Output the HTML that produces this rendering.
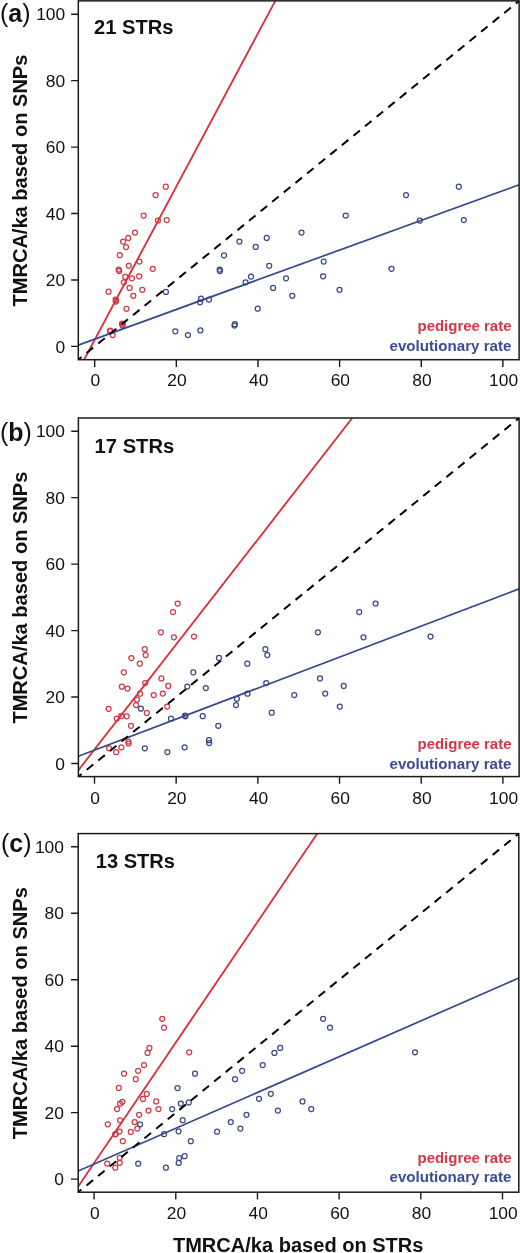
<!DOCTYPE html><html><head><meta charset="utf-8"><style>html,body{margin:0;padding:0;background:#fff;}svg{display:block;will-change:transform;}text{font-family:"Liberation Sans",sans-serif;}</style></head><body>
<svg width="520" height="1253" viewBox="0 0 520 1253">
<clipPath id="c0"><rect x="78.3" y="0.85" width="440.8" height="358.85"/></clipPath>
<path d="M94.7 359.7V366.9M176.34 359.7V366.9M257.98 359.7V366.9M339.62 359.7V366.9M421.26 359.7V366.9M502.9 359.7V366.9M78.3 346.4H71.1M78.3 279.96H71.1M78.3 213.52H71.1M78.3 147.08H71.1M78.3 80.64H71.1M78.3 14.2H71.1" stroke="#1a1a1a" stroke-width="1.4" fill="none"/>
<text x="65.2" y="352.6" font-size="17.4" text-anchor="end" fill="#111">0</text>
<text x="65.2" y="286.16" font-size="17.4" text-anchor="end" fill="#111">20</text>
<text x="65.2" y="219.72" font-size="17.4" text-anchor="end" fill="#111">40</text>
<text x="65.2" y="153.28" font-size="17.4" text-anchor="end" fill="#111">60</text>
<text x="65.2" y="86.84" font-size="17.4" text-anchor="end" fill="#111">80</text>
<text x="65.2" y="20.4" font-size="17.4" text-anchor="end" fill="#111">100</text>
<g clip-path="url(#c0)">
<g fill="none" stroke="#cf3a48" stroke-width="1.25">
<circle cx="165.8" cy="186.7" r="2.5"/>
<circle cx="155.6" cy="195" r="2.5"/>
<circle cx="143.7" cy="215.6" r="2.5"/>
<circle cx="157.9" cy="220.6" r="2.5"/>
<circle cx="166.7" cy="220" r="2.5"/>
<circle cx="135" cy="232.5" r="2.5"/>
<circle cx="128.3" cy="237.9" r="2.5"/>
<circle cx="123.1" cy="241.5" r="2.5"/>
<circle cx="126" cy="247.1" r="2.5"/>
<circle cx="119.8" cy="255.2" r="2.5"/>
<circle cx="139.4" cy="261.5" r="2.5"/>
<circle cx="128.8" cy="265.8" r="2.5"/>
<circle cx="152.7" cy="268.8" r="2.5"/>
<circle cx="118.6" cy="269.6" r="2.5"/>
<circle cx="119.2" cy="271" r="2.5"/>
<circle cx="125.2" cy="276.9" r="2.5"/>
<circle cx="131.9" cy="278.3" r="2.5"/>
<circle cx="139.2" cy="276.3" r="2.5"/>
<circle cx="123.8" cy="282.3" r="2.5"/>
<circle cx="129.6" cy="287.9" r="2.5"/>
<circle cx="142.3" cy="289.8" r="2.5"/>
<circle cx="108.5" cy="291.7" r="2.5"/>
<circle cx="133.3" cy="295.8" r="2.5"/>
<circle cx="115.6" cy="299.5" r="2.5"/>
<circle cx="115.8" cy="301.5" r="2.5"/>
<circle cx="116.2" cy="300.3" r="2.5"/>
<circle cx="126.5" cy="308.8" r="2.5"/>
<circle cx="122" cy="323.5" r="2.5"/>
<circle cx="122.5" cy="325.5" r="2.5"/>
<circle cx="110" cy="331.2" r="2.5"/>
<circle cx="112.7" cy="335" r="2.5"/>
<circle cx="110.3" cy="330.6" r="2.5"/>
<circle cx="122.8" cy="324.6" r="2.5"/>
</g><g fill="none" stroke="#3a4a88" stroke-width="1.25">
<circle cx="458.8" cy="186.7" r="2.5"/>
<circle cx="406" cy="195" r="2.5"/>
<circle cx="345.7" cy="215.6" r="2.5"/>
<circle cx="419.8" cy="220.6" r="2.5"/>
<circle cx="463.8" cy="220" r="2.5"/>
<circle cx="301.5" cy="232.5" r="2.5"/>
<circle cx="266.7" cy="237.9" r="2.5"/>
<circle cx="239.4" cy="241.5" r="2.5"/>
<circle cx="255.7" cy="246.9" r="2.5"/>
<circle cx="224" cy="255.3" r="2.5"/>
<circle cx="323.7" cy="261.5" r="2.5"/>
<circle cx="269.2" cy="265.8" r="2.5"/>
<circle cx="391.5" cy="268.8" r="2.5"/>
<circle cx="219.7" cy="269.6" r="2.5"/>
<circle cx="219.9" cy="271.1" r="2.5"/>
<circle cx="251" cy="276.5" r="2.5"/>
<circle cx="286" cy="278.3" r="2.5"/>
<circle cx="323.1" cy="276.3" r="2.5"/>
<circle cx="245.6" cy="282.3" r="2.5"/>
<circle cx="273.1" cy="287.9" r="2.5"/>
<circle cx="339.5" cy="289.8" r="2.5"/>
<circle cx="165.9" cy="291.9" r="2.5"/>
<circle cx="292.3" cy="295.8" r="2.5"/>
<circle cx="201" cy="298.7" r="2.5"/>
<circle cx="200" cy="302.3" r="2.5"/>
<circle cx="209" cy="299.6" r="2.5"/>
<circle cx="257.7" cy="308.7" r="2.5"/>
<circle cx="234.9" cy="324.2" r="2.5"/>
<circle cx="234.5" cy="325.6" r="2.5"/>
<circle cx="175.3" cy="331.3" r="2.5"/>
<circle cx="187.9" cy="335" r="2.5"/>
<circle cx="200.4" cy="330.4" r="2.5"/>
</g>
<line x1="84.1" y1="359.7" x2="275.3" y2="0.85" stroke="#d8303d" stroke-width="1.85"/>
<line x1="78.3" y1="345.1" x2="519.1" y2="184.8" stroke="#34488c" stroke-width="1.7"/>
<line x1="78.3" y1="359.7" x2="519.1" y2="0.85" stroke="#000" stroke-width="2" stroke-dasharray="8.4 6.56" stroke-dashoffset="4.26" stroke-linecap="butt"/>
</g>
<rect x="78.3" y="0.85" width="440.8" height="358.85" fill="none" stroke="#1a1a1a" stroke-width="1.5"/>
<text y="22" font-size="25" fill="#111"><tspan x="0">(</tspan><tspan font-weight="bold">a</tspan><tspan>)</tspan></text>
<text x="94" y="34.35" font-size="20" font-weight="bold" fill="#111" textLength="79.5" lengthAdjust="spacingAndGlyphs">21 STRs</text>
<text x="417.5" y="331.2" font-size="14" font-weight="bold" fill="#d6364a" textLength="94" lengthAdjust="spacingAndGlyphs">pedigree rate</text>
<text x="389.5" y="351.1" font-size="14" font-weight="bold" fill="#3a4c96" textLength="122" lengthAdjust="spacingAndGlyphs">evolutionary rate</text>
<text transform="translate(26.8 180.58) rotate(-90)" font-size="19.6" font-weight="bold" fill="#111" text-anchor="middle" textLength="252" lengthAdjust="spacingAndGlyphs">TMRCA/ka based on SNPs</text>
<text x="95.4" y="386.4" font-size="17.4" text-anchor="middle" fill="#111">0</text>
<text x="177.04" y="386.4" font-size="17.4" text-anchor="middle" fill="#111">20</text>
<text x="258.68" y="386.4" font-size="17.4" text-anchor="middle" fill="#111">40</text>
<text x="340.32" y="386.4" font-size="17.4" text-anchor="middle" fill="#111">60</text>
<text x="421.96" y="386.4" font-size="17.4" text-anchor="middle" fill="#111">80</text>
<text x="503.6" y="386.4" font-size="17.4" text-anchor="middle" fill="#111">100</text>
<clipPath id="c1"><rect x="78.4" y="418" width="440.7" height="358.6"/></clipPath>
<path d="M94.5 776.6V783.8M176.18 776.6V783.8M257.86 776.6V783.8M339.54 776.6V783.8M421.22 776.6V783.8M502.9 776.6V783.8M78.4 763.5H71.2M78.4 697.04H71.2M78.4 630.58H71.2M78.4 564.12H71.2M78.4 497.66H71.2M78.4 431.2H71.2" stroke="#1a1a1a" stroke-width="1.4" fill="none"/>
<text x="64.9" y="769.7" font-size="17.4" text-anchor="end" fill="#111">0</text>
<text x="64.9" y="703.24" font-size="17.4" text-anchor="end" fill="#111">20</text>
<text x="64.9" y="636.78" font-size="17.4" text-anchor="end" fill="#111">40</text>
<text x="64.9" y="570.32" font-size="17.4" text-anchor="end" fill="#111">60</text>
<text x="64.9" y="503.86" font-size="17.4" text-anchor="end" fill="#111">80</text>
<text x="64.9" y="437.4" font-size="17.4" text-anchor="end" fill="#111">100</text>
<g clip-path="url(#c1)">
<g fill="none" stroke="#cf3a48" stroke-width="1.25">
<circle cx="177.7" cy="603.5" r="2.5"/>
<circle cx="173" cy="612.1" r="2.5"/>
<circle cx="160.9" cy="632.3" r="2.5"/>
<circle cx="173.9" cy="637.3" r="2.5"/>
<circle cx="194" cy="636.5" r="2.5"/>
<circle cx="144.8" cy="649.2" r="2.5"/>
<circle cx="145.6" cy="655" r="2.5"/>
<circle cx="131.3" cy="658.1" r="2.5"/>
<circle cx="139.8" cy="663.7" r="2.5"/>
<circle cx="123.8" cy="672.3" r="2.5"/>
<circle cx="161.4" cy="678.4" r="2.5"/>
<circle cx="145.2" cy="683.1" r="2.5"/>
<circle cx="168.3" cy="685.9" r="2.5"/>
<circle cx="121.9" cy="686.7" r="2.5"/>
<circle cx="127.5" cy="688.6" r="2.5"/>
<circle cx="140" cy="693.7" r="2.5"/>
<circle cx="153.7" cy="695" r="2.5"/>
<circle cx="162.8" cy="693.5" r="2.5"/>
<circle cx="137" cy="699.5" r="2.5"/>
<circle cx="136" cy="705" r="2.5"/>
<circle cx="167.2" cy="706.5" r="2.5"/>
<circle cx="108.6" cy="708.8" r="2.5"/>
<circle cx="146.8" cy="712.9" r="2.5"/>
<circle cx="116.8" cy="718.5" r="2.5"/>
<circle cx="121.3" cy="715.9" r="2.5"/>
<circle cx="126.7" cy="716.3" r="2.5"/>
<circle cx="131" cy="725.8" r="2.5"/>
<circle cx="128.4" cy="741.5" r="2.5"/>
<circle cx="128.6" cy="743.5" r="2.5"/>
<circle cx="121.4" cy="747.3" r="2.5"/>
<circle cx="109" cy="748.3" r="2.5"/>
<circle cx="116.2" cy="752.2" r="2.5"/>
</g><g fill="none" stroke="#3a4a88" stroke-width="1.25">
<circle cx="375.6" cy="603.5" r="2.5"/>
<circle cx="359.2" cy="612.1" r="2.5"/>
<circle cx="317.9" cy="632.3" r="2.5"/>
<circle cx="363.5" cy="637.3" r="2.5"/>
<circle cx="430.5" cy="636.6" r="2.5"/>
<circle cx="265.4" cy="649.2" r="2.5"/>
<circle cx="267.3" cy="655" r="2.5"/>
<circle cx="219" cy="657.9" r="2.5"/>
<circle cx="247.3" cy="663.7" r="2.5"/>
<circle cx="193.3" cy="672.3" r="2.5"/>
<circle cx="320" cy="678.4" r="2.5"/>
<circle cx="266.2" cy="683.1" r="2.5"/>
<circle cx="343.7" cy="685.9" r="2.5"/>
<circle cx="187.3" cy="686.5" r="2.5"/>
<circle cx="205.8" cy="688" r="2.5"/>
<circle cx="247.5" cy="693.7" r="2.5"/>
<circle cx="294.2" cy="695" r="2.5"/>
<circle cx="325.2" cy="693.5" r="2.5"/>
<circle cx="236.9" cy="698.8" r="2.5"/>
<circle cx="236" cy="705" r="2.5"/>
<circle cx="339.8" cy="706.5" r="2.5"/>
<circle cx="140.9" cy="708.7" r="2.5"/>
<circle cx="271.7" cy="712.7" r="2.5"/>
<circle cx="171" cy="718.7" r="2.5"/>
<circle cx="185" cy="715.5" r="2.5"/>
<circle cx="185.4" cy="716.3" r="2.5"/>
<circle cx="202.7" cy="716.2" r="2.5"/>
<circle cx="218.3" cy="725.8" r="2.5"/>
<circle cx="209" cy="740.2" r="2.5"/>
<circle cx="209.2" cy="743.1" r="2.5"/>
<circle cx="184.6" cy="747.3" r="2.5"/>
<circle cx="144.8" cy="748.3" r="2.5"/>
<circle cx="167.4" cy="752.1" r="2.5"/>
</g>
<line x1="78.4" y1="770.17" x2="352.3" y2="418" stroke="#d8303d" stroke-width="1.85"/>
<line x1="78.4" y1="756.2" x2="519.1" y2="588.9" stroke="#34488c" stroke-width="1.7"/>
<line x1="78.4" y1="776.6" x2="519.1" y2="418" stroke="#000" stroke-width="2" stroke-dasharray="8.4 6.56" stroke-dashoffset="4.26" stroke-linecap="butt"/>
</g>
<rect x="78.4" y="418" width="440.7" height="358.6" fill="none" stroke="#1a1a1a" stroke-width="1.5"/>
<text y="441.4" font-size="25" fill="#111"><tspan x="0">(</tspan><tspan font-weight="bold">b</tspan><tspan>)</tspan></text>
<text x="94.6" y="453.3" font-size="20" font-weight="bold" fill="#111" textLength="79.6" lengthAdjust="spacingAndGlyphs">17 STRs</text>
<text x="417.5" y="748.9" font-size="14" font-weight="bold" fill="#d6364a" textLength="94" lengthAdjust="spacingAndGlyphs">pedigree rate</text>
<text x="389.5" y="768.8" font-size="14" font-weight="bold" fill="#3a4c96" textLength="122" lengthAdjust="spacingAndGlyphs">evolutionary rate</text>
<text transform="translate(26.8 597.6) rotate(-90)" font-size="19.6" font-weight="bold" fill="#111" text-anchor="middle" textLength="252" lengthAdjust="spacingAndGlyphs">TMRCA/ka based on SNPs</text>
<text x="95.2" y="804.2" font-size="17.4" text-anchor="middle" fill="#111">0</text>
<text x="176.88" y="804.2" font-size="17.4" text-anchor="middle" fill="#111">20</text>
<text x="258.56" y="804.2" font-size="17.4" text-anchor="middle" fill="#111">40</text>
<text x="340.24" y="804.2" font-size="17.4" text-anchor="middle" fill="#111">60</text>
<text x="421.92" y="804.2" font-size="17.4" text-anchor="middle" fill="#111">80</text>
<text x="503.6" y="804.2" font-size="17.4" text-anchor="middle" fill="#111">100</text>
<clipPath id="c2"><rect x="78.2" y="833.6" width="440.6" height="358.6"/></clipPath>
<path d="M94.1 1192.2V1199.4M175.78 1192.2V1199.4M257.46 1192.2V1199.4M339.14 1192.2V1199.4M420.82 1192.2V1199.4M502.5 1192.2V1199.4M78.2 1179.1H71M78.2 1112.64H71M78.2 1046.18H71M78.2 979.72H71M78.2 913.26H71M78.2 846.8H71" stroke="#1a1a1a" stroke-width="1.4" fill="none"/>
<text x="63.9" y="1185.3" font-size="17.4" text-anchor="end" fill="#111">0</text>
<text x="63.9" y="1118.84" font-size="17.4" text-anchor="end" fill="#111">20</text>
<text x="63.9" y="1052.38" font-size="17.4" text-anchor="end" fill="#111">40</text>
<text x="63.9" y="985.92" font-size="17.4" text-anchor="end" fill="#111">60</text>
<text x="63.9" y="919.46" font-size="17.4" text-anchor="end" fill="#111">80</text>
<text x="63.9" y="853" font-size="17.4" text-anchor="end" fill="#111">100</text>
<g clip-path="url(#c2)">
<g fill="none" stroke="#cf3a48" stroke-width="1.25">
<circle cx="162.2" cy="1018.8" r="2.5"/>
<circle cx="164" cy="1027.7" r="2.5"/>
<circle cx="149.4" cy="1047.9" r="2.5"/>
<circle cx="147.5" cy="1052.9" r="2.5"/>
<circle cx="189.2" cy="1052.3" r="2.5"/>
<circle cx="144" cy="1065" r="2.5"/>
<circle cx="138.1" cy="1070.8" r="2.5"/>
<circle cx="124" cy="1073.7" r="2.5"/>
<circle cx="135.8" cy="1079.2" r="2.5"/>
<circle cx="118.8" cy="1087.9" r="2.5"/>
<circle cx="146.7" cy="1093.9" r="2.5"/>
<circle cx="143" cy="1098.9" r="2.5"/>
<circle cx="156.2" cy="1101.4" r="2.5"/>
<circle cx="122.3" cy="1101.8" r="2.5"/>
<circle cx="120.1" cy="1103.7" r="2.5"/>
<circle cx="117" cy="1109.1" r="2.5"/>
<circle cx="148.5" cy="1110.6" r="2.5"/>
<circle cx="158.5" cy="1109" r="2.5"/>
<circle cx="139.1" cy="1114.8" r="2.5"/>
<circle cx="120" cy="1120.3" r="2.5"/>
<circle cx="107.8" cy="1124.3" r="2.5"/>
<circle cx="134.6" cy="1122" r="2.5"/>
<circle cx="137.3" cy="1128.6" r="2.5"/>
<circle cx="119.5" cy="1131.6" r="2.5"/>
<circle cx="115.3" cy="1134.3" r="2.5"/>
<circle cx="115.6" cy="1134" r="2.5"/>
<circle cx="130.8" cy="1131.9" r="2.5"/>
<circle cx="122.8" cy="1141.2" r="2.5"/>
<circle cx="119.7" cy="1157.8" r="2.5"/>
<circle cx="119.7" cy="1162.8" r="2.5"/>
<circle cx="107.2" cy="1163.6" r="2.5"/>
<circle cx="115.3" cy="1167.7" r="2.5"/>
</g><g fill="none" stroke="#3a4a88" stroke-width="1.25">
<circle cx="323.1" cy="1018.8" r="2.5"/>
<circle cx="330" cy="1027.7" r="2.5"/>
<circle cx="280.2" cy="1047.9" r="2.5"/>
<circle cx="274.4" cy="1052.9" r="2.5"/>
<circle cx="415" cy="1052.3" r="2.5"/>
<circle cx="262.7" cy="1065" r="2.5"/>
<circle cx="242.1" cy="1070.8" r="2.5"/>
<circle cx="195" cy="1073.7" r="2.5"/>
<circle cx="235" cy="1079.2" r="2.5"/>
<circle cx="177.6" cy="1088" r="2.5"/>
<circle cx="270.8" cy="1093.8" r="2.5"/>
<circle cx="259" cy="1098.8" r="2.5"/>
<circle cx="302.5" cy="1101.4" r="2.5"/>
<circle cx="188.8" cy="1102.4" r="2.5"/>
<circle cx="180.8" cy="1103.6" r="2.5"/>
<circle cx="172.2" cy="1109" r="2.5"/>
<circle cx="277.9" cy="1110.6" r="2.5"/>
<circle cx="311.2" cy="1109" r="2.5"/>
<circle cx="246.5" cy="1114.8" r="2.5"/>
<circle cx="182.7" cy="1120.2" r="2.5"/>
<circle cx="140.1" cy="1124.3" r="2.5"/>
<circle cx="230.8" cy="1122.1" r="2.5"/>
<circle cx="240.4" cy="1128.5" r="2.5"/>
<circle cx="178.6" cy="1131.3" r="2.5"/>
<circle cx="164.1" cy="1134.2" r="2.5"/>
<circle cx="217.1" cy="1131.7" r="2.5"/>
<circle cx="190.8" cy="1141.2" r="2.5"/>
<circle cx="184.6" cy="1156.2" r="2.5"/>
<circle cx="179.2" cy="1158.1" r="2.5"/>
<circle cx="178.7" cy="1162.9" r="2.5"/>
<circle cx="138.2" cy="1163.7" r="2.5"/>
<circle cx="165.9" cy="1167.7" r="2.5"/>
</g>
<line x1="78.2" y1="1186.6" x2="317.3" y2="833.6" stroke="#d8303d" stroke-width="1.85"/>
<line x1="78.2" y1="1171" x2="518.8" y2="978" stroke="#34488c" stroke-width="1.7"/>
<line x1="78.2" y1="1192.2" x2="518.8" y2="833.6" stroke="#000" stroke-width="2" stroke-dasharray="8.4 6.56" stroke-dashoffset="4.26" stroke-linecap="butt"/>
</g>
<rect x="78.2" y="833.6" width="440.6" height="358.6" fill="none" stroke="#1a1a1a" stroke-width="1.5"/>
<text y="851.6" font-size="25" fill="#111"><tspan x="1">(</tspan><tspan font-weight="bold">c</tspan><tspan>)</tspan></text>
<text x="95.8" y="868.3" font-size="20" font-weight="bold" fill="#111" textLength="79.2" lengthAdjust="spacingAndGlyphs">13 STRs</text>
<text x="417.5" y="1162.5" font-size="14" font-weight="bold" fill="#d6364a" textLength="94" lengthAdjust="spacingAndGlyphs">pedigree rate</text>
<text x="389.5" y="1182.4" font-size="14" font-weight="bold" fill="#3a4c96" textLength="122" lengthAdjust="spacingAndGlyphs">evolutionary rate</text>
<text transform="translate(26.8 1013.2) rotate(-90)" font-size="19.6" font-weight="bold" fill="#111" text-anchor="middle" textLength="252" lengthAdjust="spacingAndGlyphs">TMRCA/ka based on SNPs</text>
<text x="94.8" y="1218.9" font-size="17.4" text-anchor="middle" fill="#111">0</text>
<text x="176.48" y="1218.9" font-size="17.4" text-anchor="middle" fill="#111">20</text>
<text x="258.16" y="1218.9" font-size="17.4" text-anchor="middle" fill="#111">40</text>
<text x="339.84" y="1218.9" font-size="17.4" text-anchor="middle" fill="#111">60</text>
<text x="421.52" y="1218.9" font-size="17.4" text-anchor="middle" fill="#111">80</text>
<text x="503.2" y="1218.9" font-size="17.4" text-anchor="middle" fill="#111">100</text>
<text x="298.2" y="1252" font-size="20.3" font-weight="bold" fill="#111" text-anchor="middle" textLength="250.6" lengthAdjust="spacingAndGlyphs">TMRCA/ka based on STRs</text>
</svg></body></html>
